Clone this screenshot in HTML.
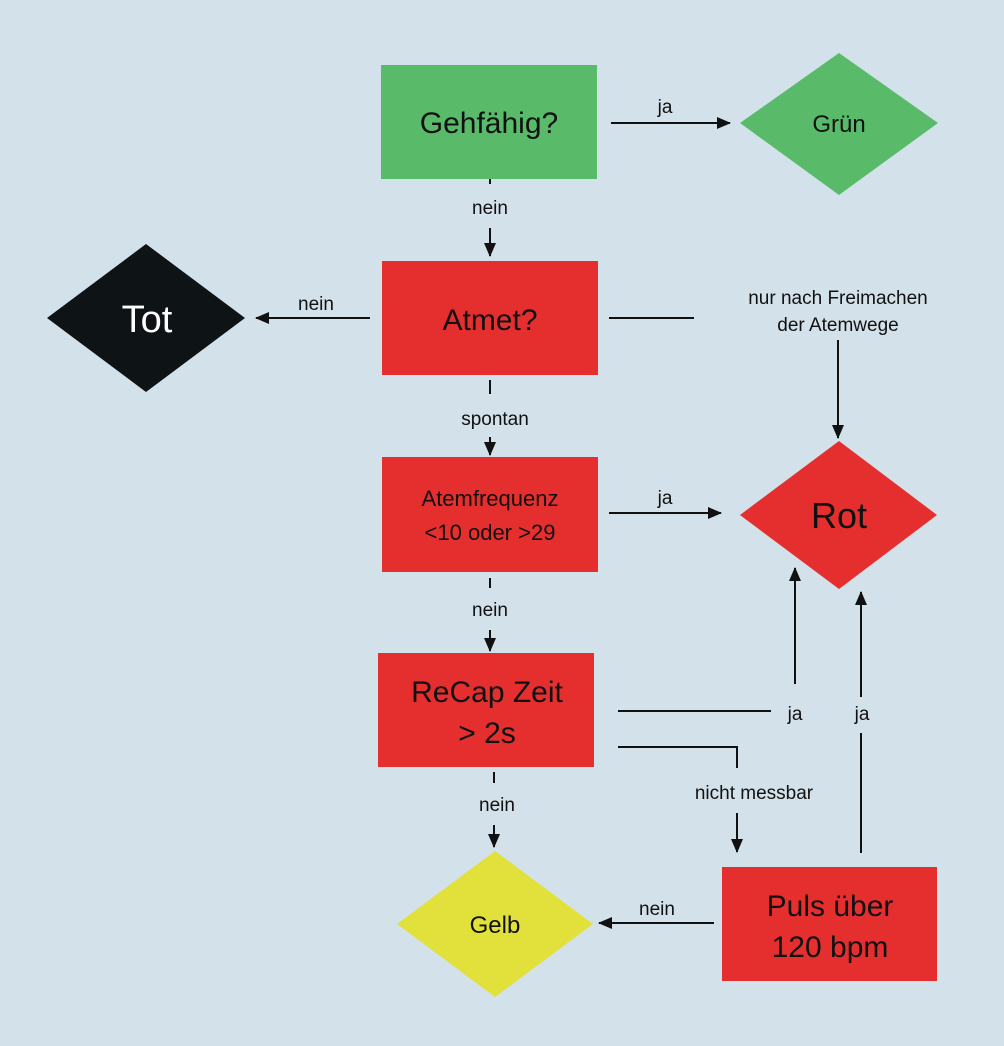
<!DOCTYPE html>
<html><head><meta charset="utf-8"><style>
html,body{margin:0;padding:0;background:#d3e1ea;}
svg{display:block;font-family:"Liberation Sans",sans-serif;}
</style></head><body>
<svg width="1004" height="1046" viewBox="0 0 1004 1046" xmlns="http://www.w3.org/2000/svg">
<defs>
<marker id="a" markerWidth="10" markerHeight="10" refX="9" refY="5" orient="auto" markerUnits="userSpaceOnUse" viewBox="0 0 10 10">
<path d="M0,0 L10,5 L0,10 z" fill="#111"/></marker>
<marker id="b" markerWidth="14" markerHeight="12" refX="13" refY="6" orient="auto" markerUnits="userSpaceOnUse" viewBox="0 0 14 12">
<path d="M0,0 L14,6 L0,12 z" fill="#111"/></marker>
</defs>
<rect width="1004" height="1046" fill="#d3e1ea"/>
<g stroke="#111" stroke-width="2" fill="none">
<!-- Gehfähig ja -->
<line x1="611" y1="123" x2="730" y2="123" marker-end="url(#b)"/>
<line x1="490" y1="179" x2="490" y2="184"/>
<line x1="490" y1="228" x2="490" y2="256" marker-end="url(#b)"/>
<line x1="370" y1="318" x2="256" y2="318" marker-end="url(#b)"/>
<line x1="609" y1="318" x2="694" y2="318"/>
<line x1="838" y1="340" x2="838" y2="438" marker-end="url(#b)"/>
<line x1="490" y1="380" x2="490" y2="394"/>
<line x1="490" y1="437" x2="490" y2="455" marker-end="url(#b)"/>
<line x1="609" y1="513" x2="721" y2="513" marker-end="url(#b)"/>
<line x1="490" y1="578" x2="490" y2="588"/>
<line x1="490" y1="630" x2="490" y2="651" marker-end="url(#b)"/>
<line x1="618" y1="711" x2="771" y2="711"/>
<line x1="795" y1="684" x2="795" y2="568" marker-end="url(#b)"/>
<polyline points="618,747 737,747 737,768"/>
<line x1="737" y1="813" x2="737" y2="852" marker-end="url(#b)"/>
<line x1="494" y1="772" x2="494" y2="783"/>
<line x1="494" y1="825" x2="494" y2="847" marker-end="url(#b)"/>
<line x1="714" y1="923" x2="599" y2="923" marker-end="url(#b)"/>
<line x1="861" y1="853" x2="861" y2="733"/>
<line x1="861" y1="697" x2="861" y2="592" marker-end="url(#b)"/>
</g>
<!-- shapes -->
<rect x="381" y="65" width="216" height="114" fill="#59bb69"/>
<polygon points="740,123 839,53 938,123 839,195" fill="#59bb69"/>
<rect x="382" y="261" width="216" height="114" fill="#e52e2e"/>
<polygon points="47,318 146,244 245,318 146,392" fill="#0e1416"/>
<rect x="382" y="457" width="216" height="115" fill="#e52e2e"/>
<polygon points="740,515 839,441 937,515 839,589" fill="#e52e2e"/>
<rect x="378" y="653" width="216" height="114" fill="#e52e2e"/>
<polygon points="397,924 495,851 593,924 495,997" fill="#e2e13b"/>
<rect x="722" y="867" width="215" height="114" fill="#e52e2e"/>
<!-- text -->
<g fill="#111" text-anchor="middle">
<text x="489" y="133" font-size="30">Gehfähig?</text>
<text x="839" y="132" font-size="24">Grün</text>
<text x="490" y="330" font-size="30">Atmet?</text>
<text x="147" y="332" font-size="38" fill="#fff">Tot</text>
<text x="490" y="506" font-size="22">Atemfrequenz</text>
<text x="490" y="540" font-size="22">&lt;10 oder &gt;29</text>
<text x="839" y="528" font-size="36">Rot</text>
<text x="487" y="702" font-size="30">ReCap Zeit</text>
<text x="487" y="743" font-size="30">&gt; 2s</text>
<text x="495" y="933" font-size="24">Gelb</text>
<text x="830" y="916" font-size="30">Puls über</text>
<text x="830" y="957" font-size="30">120 bpm</text>
<g font-size="19">
<text x="665" y="113">ja</text>
<text x="490" y="214">nein</text>
<text x="316" y="310">nein</text>
<text x="838" y="304">nur nach Freimachen</text>
<text x="838" y="331">der Atemwege</text>
<text x="495" y="425">spontan</text>
<text x="665" y="504">ja</text>
<text x="490" y="616">nein</text>
<text x="795" y="720">ja</text>
<text x="862" y="720">ja</text>
<text x="754" y="799">nicht messbar</text>
<text x="497" y="811">nein</text>
<text x="657" y="915">nein</text>
</g>
</g>
</svg>
</body></html>
